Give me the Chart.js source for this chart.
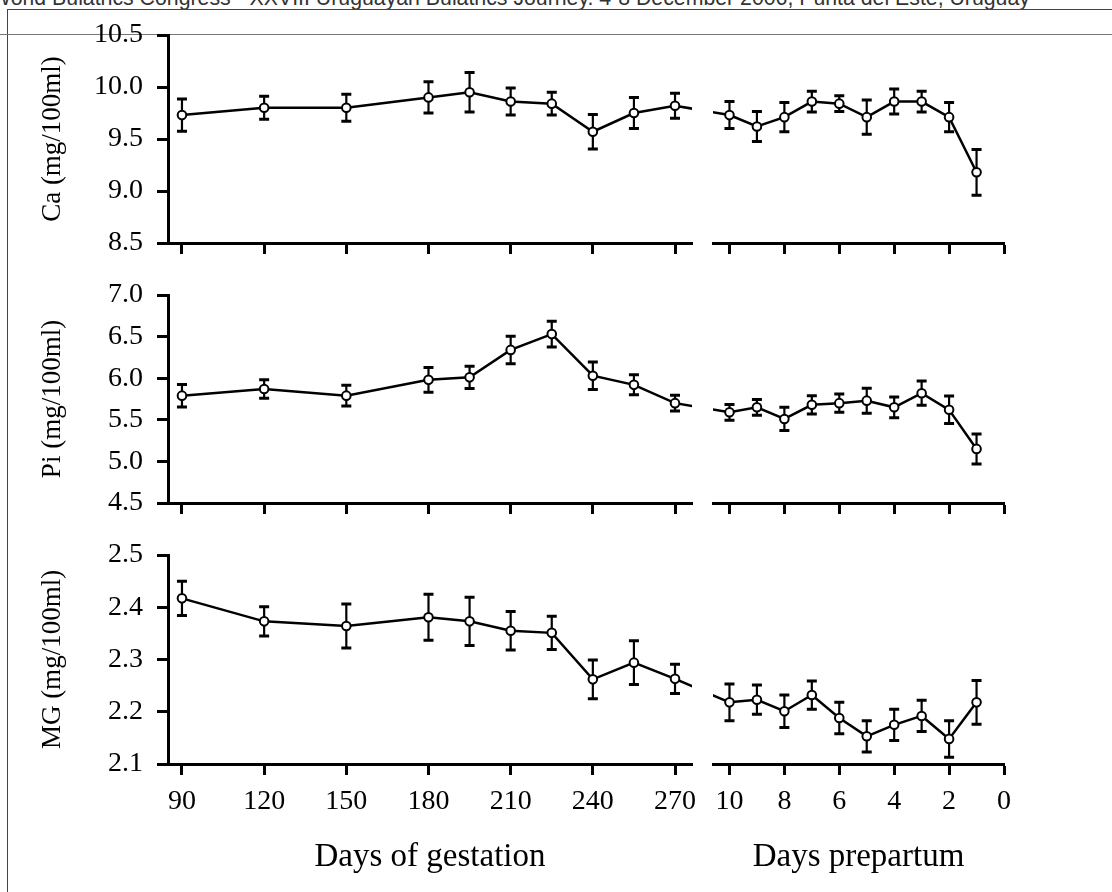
<!DOCTYPE html>
<html>
<head>
<meta charset="utf-8">
<script src="https://cdn.jsdelivr.net/npm/chart.js@4/dist/chart.umd.min.js"></script>
<style>
  body { margin: 0; width: 1112px; height: 892px; overflow: hidden; background: #fff; position: relative; }
  canvas { position: absolute; }
  #hdr { position: absolute; left: -9px; top: -12px; font-family: "Liberation Sans", Arial, sans-serif;
         font-size: 19px; color: #333; white-space: nowrap; line-height: 1; }
  #frameTop { position: absolute; left: 7px; top: 9px; width: 1105px; border-top: 1px solid #444; }
  #frameLeft { position: absolute; left: 7px; top: 9px; height: 883px; border-left: 1px solid #444; }
  #rule { position: absolute; left: 0; top: 34px; width: 1112px; border-top: 1px solid #777; }
</style>
</head>
<body>
<div id="hdr">World Buiatrics Congress - XXVIII Uruguayan Buiatrics Journey. 4-8 December 2006, Punta del Este, Uruguay</div>
<div id="frameTop"></div>
<div id="frameLeft"></div>
<div id="rule"></div>

<script>
// x positions
const gestDays = [90, 120, 150, 180, 195, 210, 225, 240, 255, 270];
const preDays = [10, 9, 8, 7, 6, 5, 4, 3, 2, 1];
const gestTicks = [90, 120, 150, 180, 210, 240, 270];
const preTicks = [10, 8, 6, 4, 2, 0];

// Ca
const caGest = [9.73, 9.80, 9.80, 9.90, 9.95, 9.86, 9.84, 9.57, 9.75, 9.82];
const caGestErr = [0.155, 0.11, 0.13, 0.15, 0.19, 0.13, 0.11, 0.165, 0.15, 0.12];
const caPre = [9.73, 9.62, 9.71, 9.86, 9.84, 9.71, 9.86, 9.86, 9.71, 9.18];
const caPreErr = [0.13, 0.145, 0.14, 0.10, 0.075, 0.165, 0.12, 0.10, 0.14, 0.22];

// Pi
const piGest = [5.79, 5.87, 5.79, 5.98, 6.01, 6.34, 6.53, 6.03, 5.92, 5.70];
const piGestErr = [0.135, 0.11, 0.125, 0.15, 0.135, 0.165, 0.155, 0.165, 0.12, 0.095];
const piPre = [5.59, 5.65, 5.51, 5.68, 5.70, 5.73, 5.65, 5.82, 5.62, 5.15];
const piPreErr = [0.095, 0.095, 0.14, 0.11, 0.11, 0.15, 0.125, 0.145, 0.165, 0.18];

// Mg
const mgGest = [2.417, 2.373, 2.364, 2.381, 2.373, 2.355, 2.351, 2.262, 2.294, 2.263];
const mgGestErr = [0.033, 0.028, 0.042, 0.044, 0.046, 0.037, 0.032, 0.037, 0.042, 0.028];
const mgPre = [2.218, 2.223, 2.201, 2.232, 2.188, 2.153, 2.175, 2.192, 2.148, 2.218];
const mgPreErr = [0.035, 0.028, 0.031, 0.027, 0.030, 0.030, 0.030, 0.030, 0.035, 0.042];

// the broken axis: prepartum day 10 sits where gestation day 290 would be,
// and gestation day 270 where prepartum day 12 would be
const BRIDGE_GEST = 290;
const BRIDGE_PRE = 12;

const SERIF = "'Liberation Serif', 'Times New Roman', serif";
const PAD = 36;

// fit header to its width in the reference
const hdr = document.getElementById('hdr');
hdr.style.fontSize = (19 * 1040 / hdr.offsetWidth) + 'px';

const errorBars = {
  id: 'errorBars',
  beforeDatasetsDraw(chart) {
    const ctx = chart.ctx;
    const y = chart.scales.y;
    ctx.save();
    ctx.strokeStyle = '#000';
    chart.data.datasets.forEach((ds, di) => {
      const meta = chart.getDatasetMeta(di);
      ds.data.forEach((p, i) => {
        if (p.e == null) return;
        const px = meta.data[i].x;
        const top = y.getPixelForValue(p.y + p.e);
        const bot = y.getPixelForValue(p.y - p.e);
        ctx.lineWidth = 2.2;
        ctx.beginPath();
        ctx.moveTo(px, top); ctx.lineTo(px, bot);
        ctx.stroke();
        ctx.lineWidth = 3;
        ctx.beginPath();
        ctx.moveTo(px - 5, top); ctx.lineTo(px + 5, top);
        ctx.moveTo(px - 5, bot); ctx.lineTo(px + 5, bot);
        ctx.stroke();
      });
    });
    ctx.restore();
  }
};

function axisStyle() {
  return {
    grid: { drawOnChartArea: false, drawTicks: true, tickLength: 11, tickWidth: 3, color: '#000' },
    border: { display: true, width: 3, color: '#000' }
  };
}

function makeCanvas(left, top, w, h) {
  const c = document.createElement('canvas');
  c.width = w; c.height = h;
  c.style.left = left + 'px';
  c.style.top = top + 'px';
  document.body.appendChild(c);
  return c;
}

function dataset(points) {
  return {
    data: points,
    borderColor: '#000',
    borderWidth: 2.5,
    tension: 0,
    clip: 0,
    pointRadius: c => c.raw && c.raw.e == null ? 0 : 4.3,
    pointBorderWidth: 2,
    pointBorderColor: '#000',
    pointBackgroundColor: '#fff'
  };
}

function panel(o) {
  const h = o.bottom - o.top;
  const last = !!o.last;
  const xH = last ? 120 : PAD;
  const tickFont = { family: SERIF, size: 28 };

  // gestation part
  const gPts = gestDays.map((d, i) => ({ x: d, y: o.gest[i], e: o.gestErr[i] }));
  gPts.push({ x: BRIDGE_GEST, y: o.pre[0] });
  const c1 = makeCanvas(0, o.top - PAD, 692 + PAD, h + PAD + xH);
  new Chart(c1, {
    type: 'line',
    data: { datasets: [dataset(gPts)] },
    options: {
      responsive: false, animation: false,
      layout: { padding: { top: PAD, right: PAD, left: 0, bottom: 0 } },
      plugins: { legend: { display: false }, tooltip: { enabled: false } },
      scales: {
        x: {
          type: 'linear', min: 84.9, max: 276.2,
          afterBuildTicks: s => { s.ticks = gestTicks.map(v => ({ value: v })); },
          afterFit: s => { s.height = xH; },
          ...axisStyle(),
          ticks: { display: last, font: tickFont, color: '#000', padding: 10, maxRotation: 0 },
          title: { display: last, text: 'Days of gestation', font: { family: SERIF, size: 33 }, color: '#000', padding: { bottom: 7 } }
        },
        y: {
          min: o.min, max: o.max,
          afterFit: s => { s.width = 168; },
          ...axisStyle(),
          ticks: { stepSize: o.step, font: tickFont, color: '#000', padding: 14, callback: v => v.toFixed(1) },
          title: { display: true, text: o.label, font: { family: SERIF, size: 27 }, color: '#000', padding: { top: 37 } }
        }
      }
    },
    plugins: [errorBars]
  });

  // prepartum part
  const pPts = [{ x: BRIDGE_PRE, y: o.gest[o.gest.length - 1] }]
    .concat(preDays.map((d, i) => ({ x: d, y: o.pre[i], e: o.preErr[i] })));
  const c2 = makeCanvas(713 - PAD, o.top - PAD, 1004 - 713 + 2 * PAD, h + PAD + xH);
  new Chart(c2, {
    type: 'line',
    data: { datasets: [dataset(pPts)] },
    options: {
      responsive: false, animation: false,
      layout: { padding: { top: PAD, right: PAD, left: PAD, bottom: 0 } },
      plugins: { legend: { display: false }, tooltip: { enabled: false } },
      scales: {
        x: {
          type: 'linear', reverse: true, min: 0, max: 10.6,
          afterBuildTicks: s => { s.ticks = preTicks.map(v => ({ value: v })); },
          afterFit: s => { s.height = xH; },
          ...axisStyle(),
          ticks: { display: last, font: tickFont, color: '#000', padding: 10, maxRotation: 0 },
          title: { display: last, text: 'Days prepartum', font: { family: SERIF, size: 33 }, color: '#000', padding: { bottom: 7 } }
        },
        y: { display: false, min: o.min, max: o.max }
      }
    },
    plugins: [errorBars]
  });
}

panel({ label: 'Ca (mg/100ml)', min: 8.5, max: 10.5, step: 0.5, top: 35, bottom: 243,
        gest: caGest, gestErr: caGestErr, pre: caPre, preErr: caPreErr });
panel({ label: 'Pi (mg/100ml)', min: 4.5, max: 7.0, step: 0.5, top: 295, bottom: 503,
        gest: piGest, gestErr: piGestErr, pre: piPre, preErr: piPreErr });
panel({ label: 'MG (mg/100ml)', min: 2.1, max: 2.5, step: 0.1, top: 555, bottom: 764, last: true,
        gest: mgGest, gestErr: mgGestErr, pre: mgPre, preErr: mgPreErr });
</script>
</body>
</html>
